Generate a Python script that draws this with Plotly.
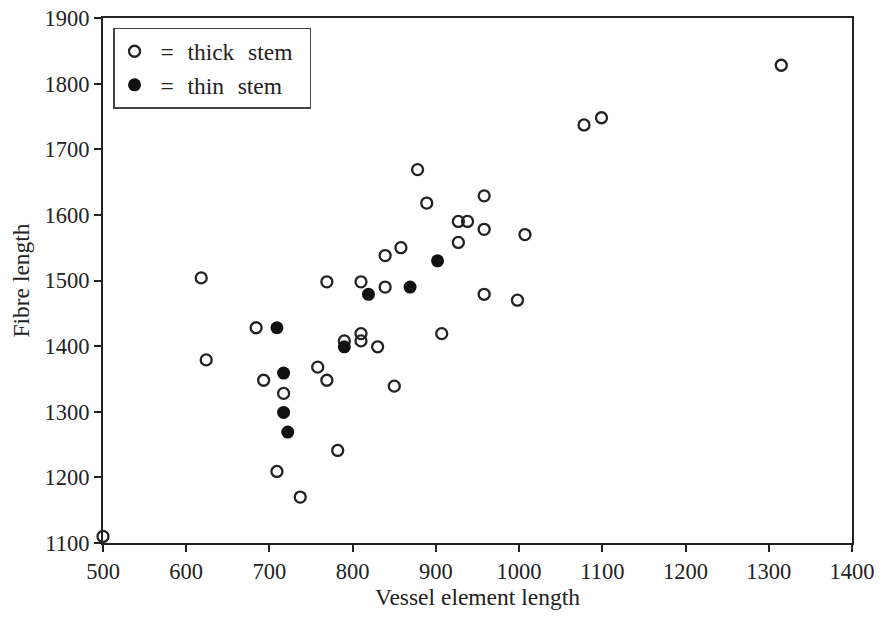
import plotly.graph_objects as go

# Thick stem (open circles)
thick_vessel = [500, 618, 624, 684, 693, 709, 717, 737, 758, 769, 769, 782, 790,
                810, 810, 810, 830, 839, 839, 850, 858, 878, 889, 907, 927, 938,
                927, 958, 958, 958, 998, 1007, 1078, 1099, 1315]
thick_fibre = [1110, 1504, 1379, 1428, 1348, 1209, 1328, 1170, 1368, 1348, 1498, 1241, 1408,
               1498, 1419, 1408, 1399, 1538, 1490, 1339, 1550, 1669, 1618, 1419, 1590, 1590,
               1558, 1629, 1578, 1479, 1470, 1570, 1737, 1748, 1828]

# Thin stem (filled circles)
thin_vessel = [709, 717, 717, 722, 790, 819, 869, 902]
thin_fibre = [1428, 1359, 1299, 1269, 1399, 1479, 1490, 1530]

x_ticks = [500, 600, 700, 800, 900, 1000, 1100, 1200, 1300, 1400]
y_ticks = [1100, 1200, 1300, 1400, 1500, 1600, 1700, 1800, 1900]

ink = "#222222"
font_family = "Liberation Serif, Times New Roman, serif"
nb = "\u00a0"
gap = nb * 2 + "\u200a"

fig = go.Figure()
fig.add_trace(go.Scatter(
    x=thick_vessel, y=thick_fibre, mode="markers",
    name=nb + "=" + gap + "thick" + gap + "stem" + nb + nb, legendgroup="a",
    marker=dict(symbol="circle-open", size=11, color=ink, line=dict(width=2.3, color=ink)),
    cliponaxis=False,
))
fig.add_trace(go.Scatter(
    x=thin_vessel, y=thin_fibre, mode="markers",
    name=nb + "=" + gap + "thin" + gap + "stem", legendgroup="b",
    marker=dict(symbol="circle", size=13, color="#111111"),
    cliponaxis=False,
))

axis_common = dict(
    showline=True, linecolor=ink, linewidth=2, mirror=True,
    ticks="outside", ticklen=7, tickwidth=1.5, tickcolor=ink,
    showgrid=False, zeroline=False, ticklabeloverflow="allow", automargin=False,
    tickfont=dict(family=font_family, size=22.5, color=ink),
)

fig.update_layout(
    width=886, height=619,
    margin=dict(l=103, r=34, t=18, b=76, autoexpand=False),
    paper_bgcolor="white", plot_bgcolor="white",
    font=dict(family=font_family, size=22, color=ink),
    xaxis=dict(range=[500, 1400], tickvals=x_ticks,
               title=dict(text="Vessel element length", font=dict(size=23.5), standoff=6),
               **axis_common),
    yaxis=dict(range=[1100, 1900], tickvals=y_ticks,
               title=dict(text="Fibre length", font=dict(size=23.5), standoff=8),
               **axis_common),
    showlegend=True,
    legend=dict(
        x=0.0134, y=0.981, xanchor="left", yanchor="top",
        bordercolor="#444", borderwidth=1.5, bgcolor="white",
        font=dict(family=font_family, size=23.5, color=ink),
        tracegroupgap=0,
    ),
)

# remove the default page margin so the figure sits at the window's top-left corner
fig.write_html("out.html",
               config={"displayModeBar": False},
               post_script="document.body.style.margin='0';document.body.style.overflow='hidden';")
